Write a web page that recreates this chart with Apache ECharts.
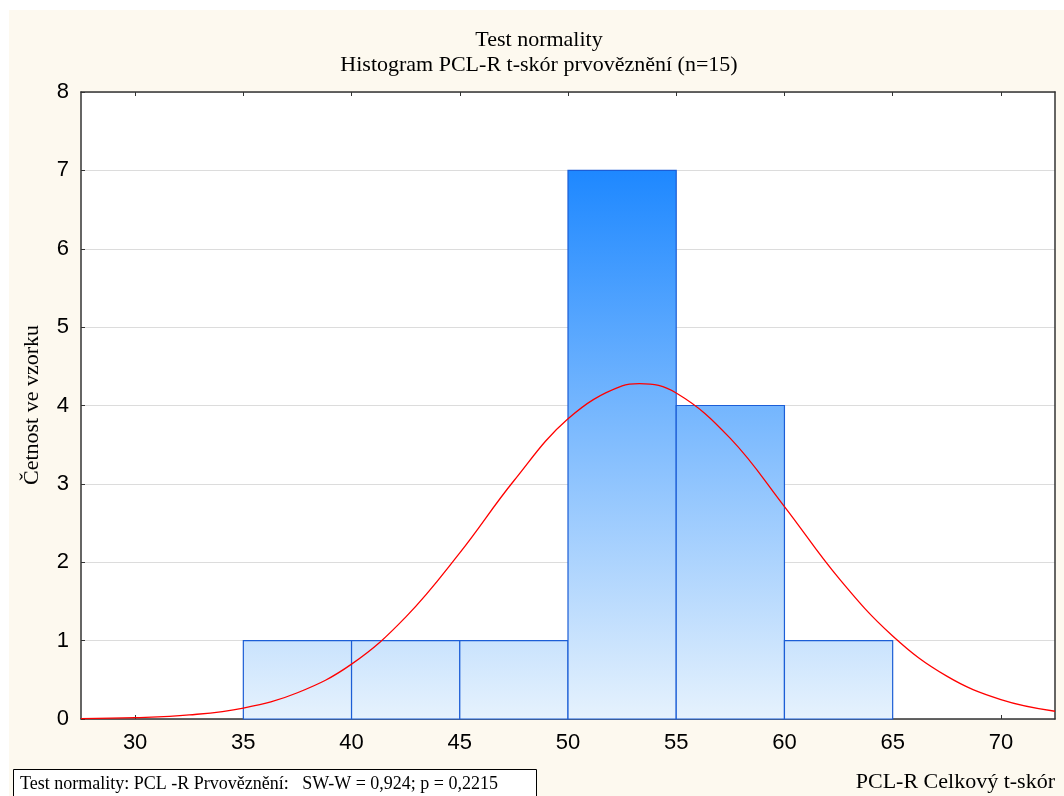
<!DOCTYPE html>
<html>
<head>
<meta charset="utf-8">
<script src="https://cdn.jsdelivr.net/npm/echarts@6/dist/echarts.min.js"></script>
<style>
html,body{margin:0;padding:0;background:#fff;}
#c{width:1064px;height:796px;}
</style>
</head>
<body>
<div id="c"></div>
<script>
// Histogram bins: [from, to, count]
const binStarts = [35, 40, 45, 50, 55, 60];
const binEnds   = [40, 45, 50, 55, 60, 65];
const binCounts = [1, 1, 1, 7, 4, 1];
// Fitted normal curve
const curveX = [27.5, 30, 32.5, 35, 37.5, 40, 42.5, 45, 47.5, 50, 52.5, 53.3, 55, 57.5, 60, 62.5, 65, 67.5, 70, 72.5];
const curveY = [0.005, 0.017, 0.052, 0.14, 0.335, 0.70, 1.30, 2.12, 3.04, 3.83, 4.25, 4.28, 4.16, 3.58, 2.71, 1.80, 1.06, 0.547, 0.248, 0.099];
const xTicks = [30, 35, 40, 45, 50, 55, 60, 65, 70];
const yTicks = [0, 1, 2, 3, 4, 5, 6, 7, 8];

const titleText = 'Test normality';
const subtitleText = 'Histogram PCL-R t-skór prvověznění (n=15)';
const yName = 'Četnost ve vzorku';
const xName = 'PCL-R Celkový t-skór';
const testText = 'Test normality: PCL -R Prvověznění:   SW-W = 0,924; p = 0,2215';

const chart = echarts.init(document.getElementById('c'), null, {renderer: 'canvas'});
const serif = '"Liberation Serif", "Times New Roman", serif';
const sans = '"Liberation Sans", Arial, sans-serif';
const axisCol = '#333';

const binData = binStarts.map((s, i) => [s, binEnds[i], binCounts[i]]);
const curveData = curveX.map((x, i) => [x, curveY[i]]);

const stops = [
  {offset: 0, color: '#1e88ff'},
  {offset: 1, color: '#e6f2fd'}
];

const option = {
  backgroundColor: '#ffffff',
  animation: false,
  graphic: [
    {type: 'rect', z: -10, silent: true, shape: {x: 9, y: 10, width: 1064, height: 800}, style: {fill: '#fdf9ef'}},
    {type: 'text', z: 10, style: {x: 539, y: 40, text: titleText, font: '22px ' + serif, fill: '#000', align: 'center', verticalAlign: 'middle'}},
    {type: 'text', z: 10, style: {x: 539, y: 65, text: subtitleText, font: '22px ' + serif, fill: '#000', align: 'center', verticalAlign: 'middle'}},
    {type: 'rect', z: 10, shape: {x: 13.5, y: 769.5, width: 523, height: 40}, style: {fill: '#ffffff', stroke: '#000', lineWidth: 1}},
    {type: 'text', z: 11, style: {x: 20, y: 784, text: testText, font: '18px ' + serif, fill: '#000', verticalAlign: 'middle'}},
    {type: 'text', z: 10, style: {x: 1055, y: 782, text: xName, font: '22px ' + serif, fill: '#000', align: 'right', verticalAlign: 'middle'}},
    {type: 'text', z: 10, rotation: Math.PI / 2, x: 32, y: 405, style: {x: 0, y: 0, text: yName, font: '22px ' + serif, fill: '#000', align: 'center', verticalAlign: 'middle'}}
  ],
  grid: {left: 81, right: 9, top: 92, bottom: 77, show: true, backgroundColor: '#ffffff', borderWidth: 0},
  xAxis: [
    {
      type: 'value', min: 27.5, max: 72.5, position: 'bottom',
      axisLine: {show: true, onZero: false, lineStyle: {color: axisCol, width: 1.5}},
      axisTick: {show: true, inside: true, length: 4, customValues: xTicks, lineStyle: {color: axisCol}},
      axisLabel: {customValues: xTicks, margin: 13, fontFamily: sans, fontSize: 22, color: '#000'},
      splitLine: {show: false}
    },
    {
      type: 'value', min: 27.5, max: 72.5, position: 'top',
      axisLine: {show: true, onZero: false, lineStyle: {color: axisCol, width: 1.5}},
      axisTick: {show: true, inside: true, length: 4, customValues: xTicks, lineStyle: {color: axisCol}},
      axisLabel: {show: false},
      splitLine: {show: false}
    }
  ],
  yAxis: [
    {
      type: 'value', min: 0, max: 8, interval: 1, position: 'left',
      axisLine: {show: true, onZero: false, lineStyle: {color: axisCol, width: 1.5}},
      axisTick: {show: true, inside: true, length: 4, lineStyle: {color: axisCol}},
      axisLabel: {margin: 12, fontFamily: sans, fontSize: 22, color: '#000'},
      splitLine: {show: true, lineStyle: {color: '#dcdcdc', width: 1}}
    },
    {
      type: 'value', min: 0, max: 8, interval: 1, position: 'right',
      axisLine: {show: true, onZero: false, lineStyle: {color: axisCol, width: 1.5}},
      axisTick: {show: false},
      axisLabel: {show: false},
      splitLine: {show: false}
    }
  ],
  series: [
    {
      type: 'custom',
      xAxisIndex: 0, yAxisIndex: 0,
      data: binData,
      encode: {x: [0, 1], y: 2},
      z: 2,
      renderItem: function (params, api) {
        const x0 = api.value(0), x1 = api.value(1), c = api.value(2);
        const p0 = api.coord([x0, 0]);
        const p1 = api.coord([x1, c]);
        const gTop = api.coord([x0, 7])[1];
        const gBot = p0[1];
        return {
          type: 'rect',
          shape: {x: p0[0], y: p1[1], width: p1[0] - p0[0], height: p0[1] - p1[1]},
          style: {
            fill: new echarts.graphic.LinearGradient(0, gTop, 0, gBot, stops, true),
            stroke: '#1c5ed6', lineWidth: 1.2
          }
        };
      }
    },
    {
      type: 'line',
      xAxisIndex: 0, yAxisIndex: 0,
      data: curveData,
      smooth: 0.4,
      showSymbol: false,
      symbol: 'none',
      z: 5,
      lineStyle: {color: '#ff0000', width: 1.3},
      clip: true
    }
  ]
};
chart.setOption(option);
</script>
</body>
</html>
